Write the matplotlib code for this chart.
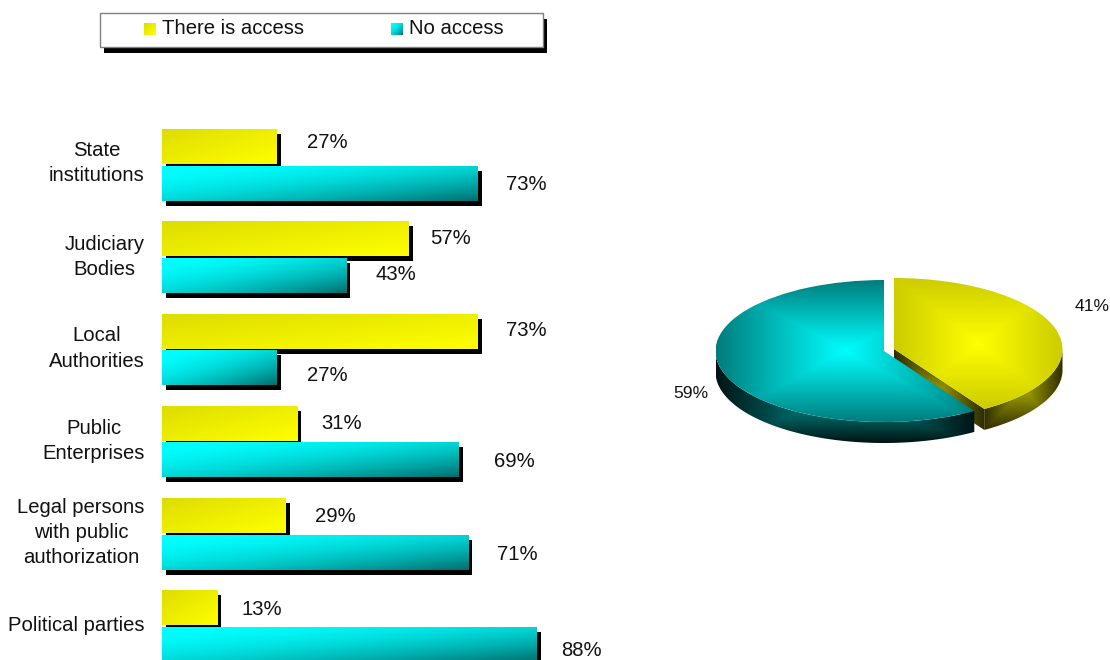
import numpy as np
import matplotlib
matplotlib.use('Agg')
import matplotlib.pyplot as plt
import matplotlib.patheffects as pe
from matplotlib.image import BboxImage
from matplotlib.legend_handler import HandlerBase
from matplotlib.patches import Patch, Polygon, Rectangle, Wedge
from matplotlib.transforms import Affine2D, Bbox, TransformedBbox

# Data: bar lengths, labels as printed on it
categorias = ['State\ninstitutions', 'Judiciary\nBodies', 'Local\nAuthorities', 'Public\nEnterprises',
              'Legal persons\nwith public\nauthorization', 'Political parties']
hay_acceso = [26.7, 57.4, 73.4, 31.4, 28.8, 12.8]
sin_acceso = [73.4, 42.8, 26.7, 69.0, 71.2, 87.2]
etiquetas_si = ['27%', '57%', '73%', '31%', '29%', '13%']
etiquetas_no = ['73%', '43%', '27%', '69%', '71%', '88%']
series = ['There is access', 'No access']
pie_valores = [41, 59]

plt.rcParams['font.family'] = ['Liberation Sans', 'DejaVu Sans']
W, H = 1110, 660
DPI = 100
PX = 72 / DPI

# label nudges in pixels, same order as the categories
off_si = [(30, 4), (21, 0), (28, 1), (24, 0), (29, -1), (24, -2)]
off_no = [(28, -1), (29, 1), (30, -8), (35, -2), (29, -2), (24, -6)]
off_cat = [7, 5.5, 6, 5.5, 6.5, 2]


def grad_diagonal(c0, c1, gamma=1.0, n=64):
    u, v = np.meshgrid(np.linspace(0, 1, n), np.linspace(0, 1, n))
    t = (((u + v) / 2) ** gamma)[..., None]
    return (np.array(c0) * (1 - t) + np.array(c1) * t) / 255


def grad_rect(c0, c1, n=200):
    u, v = np.meshgrid(np.linspace(-1, 1, n), np.linspace(-1, 1, n))
    t = np.maximum(abs(u), abs(v))[..., None]
    return (np.array(c0) * (1 - t) + np.array(c1) * t) / 255


def rellenar(ax, patch, img, extent, z):
    # paint a gradient clipped to the patch
    im = ax.imshow(img, extent=extent, aspect='auto', interpolation='bilinear', zorder=z)
    im.set_clip_path(patch)


AMARILLO = ((221, 221, 0), (255, 255, 0), 1.0)
CIAN = ((0, 255, 255), (0, 110, 110), 1.8)


def ejes_px(left, top, right, bottom):
    return fig.add_axes([left / W, 1 - bottom / H, (right - left) / W, (bottom - top) / H])


fig = plt.figure(figsize=(W / DPI, H / DPI), dpi=DPI, facecolor='white')

# Bars
ax = ejes_px(162, 120, 592, 660)
ax.set_xlim(0, 100)
ylim = ((660 - 165.25) / 92.1, (120 - 165.25) / 92.1)
y = np.arange(len(categorias))
sombra = [pe.SimplePatchShadow(offset=(4 * PX, -5 * PX), shadow_rgbFace='black', alpha=1), pe.Normal()]

z = 2
for valores, etiquetas, delta, colores, offs in [(hay_acceso, etiquetas_si, -0.2, AMARILLO, off_si),
                                                 (sin_acceso, etiquetas_no, 0.2, CIAN, off_no)]:
    barras = ax.barh(y + delta, valores, height=0.38, color='none', zorder=z, path_effects=sombra)
    for b, v, et, (dx, dy) in zip(barras, valores, etiquetas, offs):
        b.set_facecolor(np.array(colores[0]) / 255)
        rellenar(ax, b, grad_diagonal(*colores), (0, v, b.get_y() + b.get_height(), b.get_y()), z + 1)
        ax.annotate(et, xy=(v, b.get_y() + b.get_height() / 2), xytext=(dx, dy),
                    textcoords='offset pixels', ha='left', va='center', fontsize=14.6, color='#111111',
                    annotation_clip=False)
    z += 2

ax.set_xlim(0, 100)
ax.set_ylim(*ylim)
ax.set_xticks([])
ax.set_yticks(y, categorias)
ax.tick_params(axis='y', length=0, pad=12.5, labelsize=14.6, labelcolor='#111111')
for t, dy in zip(ax.get_yticklabels(), off_cat):
    t.set_multialignment('center')
    t.set_linespacing(1.41)
    t.set_transform(t.get_transform() + Affine2D().translate(0, dy))
for s in ax.spines.values():
    s.set_visible(False)
ax.patch.set_alpha(0)

# Pie, 1 unit = radius of the ellipse
RX, RY = 168.5, 71
CX, CY = 889, 350
FONDO = 21 / RY
corte = np.radians(360 * pie_valores[0] / sum(pie_valores))
sep = 5 / RX
sep_y = 1 / RY

ap = ejes_px(640, 250, 1110, 470)
ap.axis('off')


def arco(cx, cy, a0, a1, dy=0):
    a = np.linspace(a0, a1, 150)
    return np.column_stack([cx + np.sin(a), cy + np.cos(a) - dy])


def pared(puntos, c0, c1, z):
    p = Polygon(puntos, closed=True, facecolor='none', edgecolor='none', zorder=z)
    ap.add_patch(p)
    x0, y0 = puntos.min(axis=0)
    x1, y1 = puntos.max(axis=0)
    rellenar(ap, p, grad_rect(c0, c1), (x0, x1, y0, y1), z)


# yellow slice: side, cut face, top
lado = np.vstack([arco(sep, sep_y, np.pi / 2, corte), arco(sep, sep_y, corte, np.pi / 2, FONDO)])
pared(lado, (165, 165, 0), (48, 45, 0), 2)
punta = arco(sep, sep_y, corte, corte)[0]
cara = np.array([[sep, sep_y], punta, punta - [0, FONDO], [sep, sep_y - FONDO]])
pared(cara, (150, 150, 0), (45, 42, 0), 3)
cuña_y = Wedge((sep, sep_y), 1, 90 - np.degrees(corte), 90, facecolor='none', edgecolor='none', zorder=4)
ap.add_patch(cuña_y)
rellenar(ap, cuña_y, grad_rect((255, 255, 0), (204, 204, 0)),
         (sep, sep + 1, sep_y + np.cos(corte), sep_y + 1), 4)

# cyan slice: side, top
lado = np.vstack([arco(-sep, -sep_y, corte, 3 * np.pi / 2), arco(-sep, -sep_y, 3 * np.pi / 2, corte, FONDO)])
pared(lado, (0, 154, 154), (0, 20, 20), 5)
cuña_c = Wedge((-sep, -sep_y), 1, 90, 450 - np.degrees(corte), facecolor='none', edgecolor='none', zorder=6)
ap.add_patch(cuña_c)
rellenar(ap, cuña_c, grad_rect((0, 255, 255), (0, 125, 125)),
         (-sep - 1, -sep + np.sin(corte), -sep_y - 1, -sep_y + 1), 6)

ap.set_xlim((640 - CX) / RX, (1110 - CX) / RX)
ap.set_ylim((CY - 470) / RY, (CY - 250) / RY)

# percent labels, measured from the middle of each slice edge
mid_y = corte / 2
mid_c = corte + (2 * np.pi - corte) / 2
ap.annotate(f'{pie_valores[0]}%', xy=(sep + np.sin(mid_y), np.cos(mid_y)), xytext=(36, 24),
            textcoords='offset pixels', ha='center', va='center', fontsize=12.6, color='#111111')
ap.annotate(f'{pie_valores[1]}%', xy=(-sep + np.sin(mid_c), np.cos(mid_c)), xytext=(-31, -24),
            textcoords='offset pixels', ha='center', va='center', fontsize=12.6, color='#111111')


# Legend
class HandlerDegradado(HandlerBase):
    def create_artists(self, legend, orig_handle, xd, yd, width, height, fontsize, trans):
        lado = 12 * PX
        y0 = (height - lado) / 2 - yd - 3 * PX
        caja = TransformedBbox(Bbox([[-xd, y0], [-xd + lado, y0 + lado]]), trans)
        im = BboxImage(caja, interpolation='bilinear')
        im.set_data(orig_handle.grad)
        return [im]


marco = Rectangle((100 / W, 1 - 47 / H), 443 / W, 34 / H, transform=fig.transFigure, facecolor='white',
                  edgecolor='#808080', linewidth=1, zorder=1,
                  path_effects=[pe.SimplePatchShadow(offset=(4 * PX, -5.5 * PX), shadow_rgbFace='black', alpha=1),
                                pe.Normal()])
fig.add_artist(marco)

asas = []
for nombre, colores in zip(series, [AMARILLO, CIAN]):
    h = Patch(label=nombre)
    h.grad = grad_diagonal(*colores)
    asas.append(h)
fig.legend(handles=asas, handler_map={Patch: HandlerDegradado()}, ncols=2, frameon=False,
           loc='upper left', bbox_to_anchor=(144 / W, 1 - 18.5 / H), borderaxespad=0, borderpad=0,
           fontsize=14.6, handlelength=12 / 20.3, handletextpad=6 / 20.3, columnspacing=87 / 20.3,
           labelcolor='#111111')

fig.savefig('out.png', dpi=DPI)
